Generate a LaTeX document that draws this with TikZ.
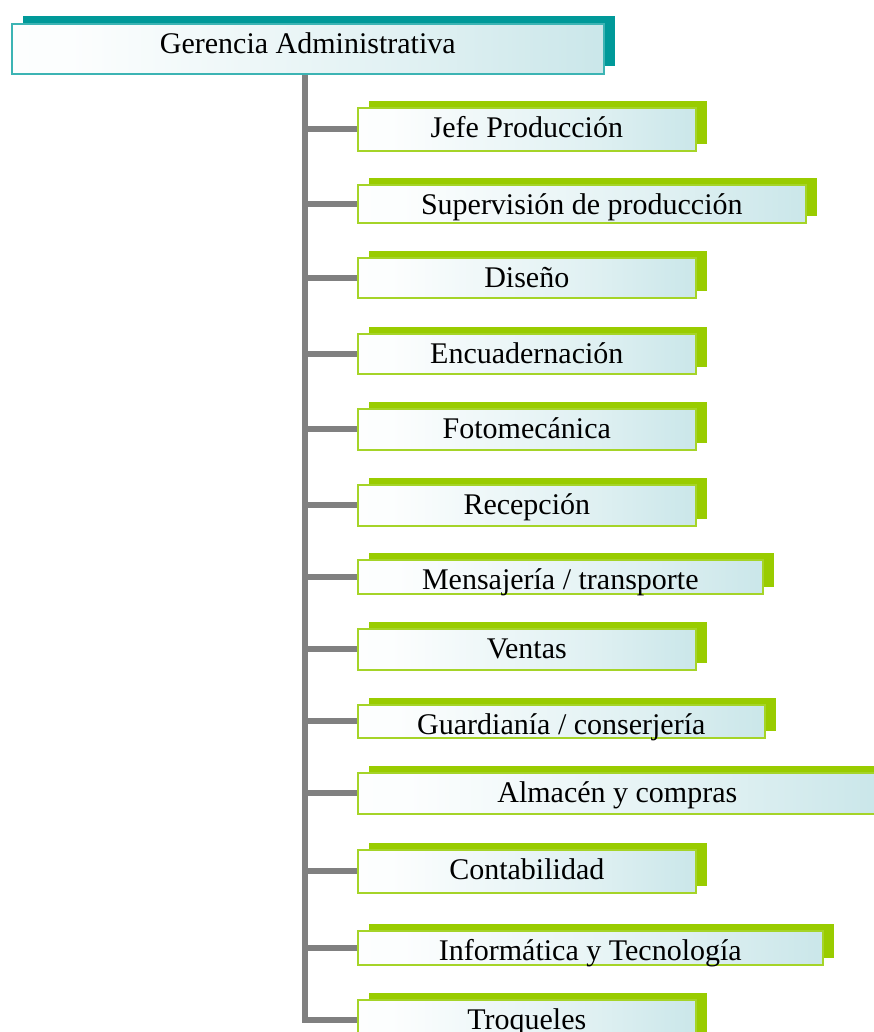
\documentclass[tikz,border=0pt]{standalone}
\usepackage{fontspec}
\setmainfont{Liberation Serif}
\usepackage{xcolor}
\usepackage{tikz}
\usetikzlibrary{shadows}
\definecolor{gerteal}{RGB}{0,153,153}
\definecolor{gerborde}{RGB}{60,180,180}
\definecolor{unverde}{RGB}{153,204,0}
\definecolor{unborde}{RGB}{165,212,40}
\definecolor{celeste}{RGB}{184,222,226}
\definecolor{ramagris}{RGB}{128,128,128}
\pgfdeclarehorizontalshading{cajafondo}{100bp}{
    color(0bp)=(white); color(30bp)=(white!96!celeste);
    color(60bp)=(white!55!celeste); color(88bp)=(celeste); color(100bp)=(celeste)}

\begin{document}
\begin{tikzpicture}[x=1pt, y=-1pt,
    caja/.style={rectangle, line width=1.6pt, inner xsep=0pt, inner ysep=0pt,
                 text height=30pt, shading=cajafondo,
                 font=\fontsize{30}{36}\selectfont, anchor=north west},
    gerencia/.style={caja, draw=gerborde,
                     general shadow={fill=gerteal, shadow xshift=11pt, shadow yshift=8pt}},
    unidad/.style={caja, draw=unborde,
                   general shadow={fill=unverde, shadow xshift=11pt, shadow yshift=7pt}},
    rama/.style={draw=ramagris, line width=6pt}]

\path[use as bounding box, clip] (0,0) rectangle (874,1032);

%% Cabeza
\node[gerencia, minimum width=592pt, text depth=20pt] (ger) at (11,23) {Gerencia Administrativa};

%% Unidades: x=357, top de cada caja
\node[unidad, minimum width=338pt, text depth=13pt] (jefe)           at (357,107) {Jefe Producción};
\node[unidad, minimum width=448pt, text depth=8pt]  (supervision)    at (357,184) {Supervisión de producción};
\node[unidad, minimum width=338pt, text depth=10pt] (diseno)         at (357,257) {Diseño};
\node[unidad, minimum width=338pt, text depth=10pt] (encuadernacion) at (357,333) {Encuadernación};
\node[unidad, minimum width=338pt, text depth=11pt] (fotomecanica)   at (357,408) {Fotomecánica};
\node[unidad, minimum width=338pt, text depth=11pt] (recepcion)      at (357,484) {Recepción};
\node[unidad, minimum width=405pt, text depth=4pt]  (mensajeria)     at (357,559) {Mensajería / transporte};
\node[unidad, minimum width=338pt, text depth=11pt] (ventas)         at (357,628) {Ventas};
\node[unidad, minimum width=407pt, text depth=3pt]  (guardiania)     at (357,704) {Guardianía / conserjería};
\node[unidad, minimum width=519pt, text depth=11pt] (almacen)        at (357,772) {Almacén y compras};
\node[unidad, minimum width=338pt, text depth=13pt] (contabilidad)   at (357,849) {Contabilidad};
\node[unidad, minimum width=465pt, text depth=4pt]  (informatica)    at (357,930) {Informática y Tecnología};
\node[unidad, minimum width=338pt, text depth=10pt] (troqueles)      at (357,999) {Troqueles};

%% Tronco y ramas
\coordinate (eje) at (305,0);
\draw[rama] (ger.south -| eje) |- (troqueles.west);
\foreach \u in {jefe,supervision,diseno,encuadernacion,fotomecanica,recepcion,
                mensajeria,ventas,guardiania,almacen,contabilidad,informatica}
    \draw[rama] (eje |- \u.west) -- (\u.west);

\end{tikzpicture}
\end{document}
